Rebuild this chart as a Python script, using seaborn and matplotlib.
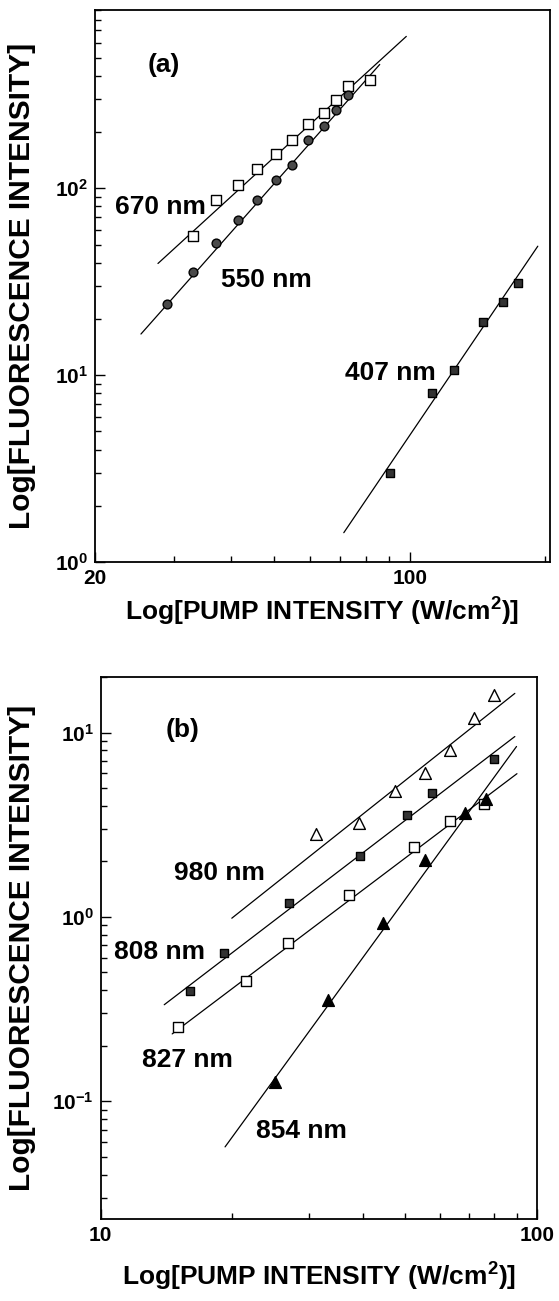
import numpy as np
import pandas as pd
import matplotlib
matplotlib.use("Agg")
import matplotlib.pyplot as plt
import seaborn as sns
from matplotlib.ticker import FixedLocator, FixedFormatter, LogLocator, NullFormatter

# ---------------- Panel (a) data ----------------
a670_x = [33.0, 37.1, 41.6, 45.9, 50.4, 54.9, 59.5, 64.6, 68.5, 73.1, 81.8]
a670_y = [55.4, 86.3, 104.7, 126.3, 152, 182, 220, 253, 296, 351, 378]
a670_fit_x = [27.6, 98.3]
a670_fit_y = [39.6, 650]

a550_x = [28.9, 33.0, 37.1, 41.6, 45.9, 50.4, 54.9, 59.5, 64.6, 68.5, 73.1]
a550_y = [23.9, 35.7, 51.0, 68.0, 86.3, 111.3, 132.8, 182, 214.6, 261, 314]
a550_fit_x = [25.3, 85.8]
a550_fit_y = [16.6, 460]

a407_x = [90.3, 112.3, 125.2, 145.5, 161.1, 174.0]
a407_y = [3.0, 7.98, 10.6, 19.3, 24.7, 31.2]
a407_fit_x = [71.4, 192.6]
a407_fit_y = [1.435, 49.0]

# ---------------- Panel (b) data ----------------
b980_x = [31.2, 39.2, 47.3, 55.4, 63.2, 71.7, 79.9]
b980_y = [2.80, 3.23, 4.84, 6.03, 8.06, 12.05, 16.0]
b980_fit_x = [20.0, 89.1]
b980_fit_y = [0.984, 16.3]

b808_x = [16.0, 19.2, 27.1, 39.3, 50.4, 57.4, 79.9]
b808_y = [0.398, 0.641, 1.186, 2.14, 3.55, 4.70, 7.17]
b808_fit_x = [14.0, 89.1]
b808_fit_y = [0.334, 9.51]

b827_x = [15.07, 21.5, 26.9, 37.2, 52.3, 63.4, 75.7]
b827_y = [0.252, 0.451, 0.721, 1.32, 2.39, 3.33, 4.07]
b827_fit_x = [14.6, 90.1]
b827_fit_y = [0.232, 5.98]

b854_x = [25.1, 33.3, 44.4, 55.4, 68.4, 76.4]
b854_y = [0.127, 0.356, 0.931, 2.03, 3.66, 4.36]
b854_fit_x = [19.3, 89.9]
b854_fit_y = [0.0566, 8.40]

a_xticks = [20, 100]
a_xticklabels = ["20", "100"]
a_yticks = [1, 10, 100]
a_yticklabels = [r"$10^{0}$", r"$10^{1}$", r"$10^{2}$"]
b_xticks = [10, 100]
b_xticklabels = ["10", "100"]
b_yticks = [0.1, 1, 10]
b_yticklabels = [r"$10^{-1}$", r"$10^{0}$", r"$10^{1}$"]

xlabel_text = r"Log[PUMP INTENSITY (W/cm$^{2}$)]"
ylabel_text = "Log[FLUORESCENCE INTENSITY]"

sns.set_style("ticks")
plt.rcParams["font.family"] = ["Liberation Sans", "DejaVu Sans"]
plt.rcParams["font.weight"] = "bold"
plt.rcParams["mathtext.fontset"] = "custom"
plt.rcParams["mathtext.rm"] = "Liberation Sans:bold"
plt.rcParams["mathtext.bf"] = "Liberation Sans:bold"
plt.rcParams["mathtext.it"] = "Liberation Sans:bold"
plt.rcParams["mathtext.default"] = "bf"
for key in ["text.color", "axes.labelcolor", "xtick.color", "ytick.color", "axes.edgecolor"]:
    plt.rcParams[key] = "black"

fig = plt.figure(figsize=(5.59, 13.01), dpi=100)
W, H = 559.0, 1301.0
axA = fig.add_axes([95 / W, 1 - 562 / H, (550 - 95) / W, (562 - 10) / H])
axB = fig.add_axes([100.5 / W, 1 - 1219 / H, (536.7 - 100.5) / W, (1219 - 677) / H])

LW = 0.9


def fit_line(ax, xs, ys):
    sns.lineplot(x=xs, y=ys, ax=ax, color="black", linewidth=LW,
                 estimator=None, sort=False, legend=False)


def pts(ax, xs, ys, marker, face, size):
    sns.scatterplot(x=xs, y=ys, ax=ax, marker=marker, s=size,
                    facecolor=face, edgecolor="black", linewidth=1.0,
                    legend=False, zorder=5)


# Panel (a)
fit_line(axA, a670_fit_x, a670_fit_y)
fit_line(axA, a550_fit_x, a550_fit_y)
fit_line(axA, a407_fit_x, a407_fit_y)
pts(axA, a670_x, a670_y, "s", "white", 44)
pts(axA, a550_x, a550_y, "o", "#4a4a4a", 40)
pts(axA, a407_x, a407_y, "s", "#333333", 40)

# Panel (b)
fit_line(axB, b980_fit_x, b980_fit_y)
fit_line(axB, b808_fit_x, b808_fit_y)
fit_line(axB, b827_fit_x, b827_fit_y)
fit_line(axB, b854_fit_x, b854_fit_y)
pts(axB, b980_x, b980_y, "^", "white", 72)
pts(axB, b808_x, b808_y, "s", "#333333", 40)
pts(axB, b827_x, b827_y, "s", "white", 46)
pts(axB, b854_x, b854_y, "^", "black", 72)


def style_axis(ax, xlim, ylim, xt, xtl, yt, ytl):
    ax.set_xscale("log")
    ax.set_yscale("log")
    ax.set_xlim(*xlim)
    ax.set_ylim(*ylim)
    ax.xaxis.set_major_locator(FixedLocator(xt))
    ax.xaxis.set_major_formatter(FixedFormatter(xtl))
    ax.xaxis.set_minor_locator(LogLocator(base=10, subs=np.arange(2, 10)))
    ax.xaxis.set_minor_formatter(NullFormatter())
    ax.yaxis.set_major_locator(FixedLocator(yt))
    ax.yaxis.set_major_formatter(FixedFormatter(ytl))
    ax.yaxis.set_minor_locator(LogLocator(base=10, subs=np.arange(2, 10), numticks=20))
    ax.yaxis.set_minor_formatter(NullFormatter())
    ax.tick_params(which="both", direction="in", top=False, right=False, width=1.0,
                   color="black", labelcolor="black")
    ax.tick_params(which="major", length=7)
    ax.tick_params(which="minor", length=4)
    ax.tick_params(axis="x", which="major", pad=5, labelsize=15)
    ax.tick_params(axis="y", which="major", pad=5, labelsize=15)
    for s in ax.spines.values():
        s.set_visible(True)
        s.set_linewidth(1.3)
        s.set_color("black")
    ax.set_xlabel(xlabel_text, fontsize=19, fontweight="bold", color="black")
    ax.set_ylabel(ylabel_text, fontsize=21.5, fontweight="bold", color="black")


style_axis(axA, (20, 205), (1, 900), a_xticks, a_xticklabels, a_yticks, a_yticklabels)
style_axis(axB, (10, 100), (0.023, 20), b_xticks, b_xticklabels, b_yticks, b_yticklabels)

axA.xaxis.set_label_coords(0.5, (562 - 612) / 552.0)
axA.yaxis.set_label_coords((22 - 95) / 455.0, 0.5)
axB.xaxis.set_label_coords(0.5, (1219 - 1277) / 542.0)
axB.yaxis.set_label_coords((22 - 100.5) / 436.2, 0.5)
for ax in (axA, axB):
    ax.xaxis.label.set_va("center")
    ax.yaxis.label.set_va("center")

TFS = 19
kw = dict(fontsize=TFS, fontweight="bold", ha="center", va="center", color="black")
axA.text(0.152, 0.900, "(a)", transform=axA.transAxes, **kw)
axA.text(0.144, 0.643, "670 nm", transform=axA.transAxes, **kw)
axA.text(0.376, 0.511, "550 nm", transform=axA.transAxes, **kw)
axA.text(0.650, 0.343, "407 nm", transform=axA.transAxes, **kw)

axB.text(0.188, 0.902, "(b)", transform=axB.transAxes, **kw)
axB.text(0.272, 0.639, "980 nm", transform=axB.transAxes, **kw)
axB.text(0.136, 0.493, "808 nm", transform=axB.transAxes, **kw)
axB.text(0.199, 0.293, "827 nm", transform=axB.transAxes, **kw)
axB.text(0.460, 0.162, "854 nm", transform=axB.transAxes, **kw)

fig.savefig("out.png", dpi=100)
